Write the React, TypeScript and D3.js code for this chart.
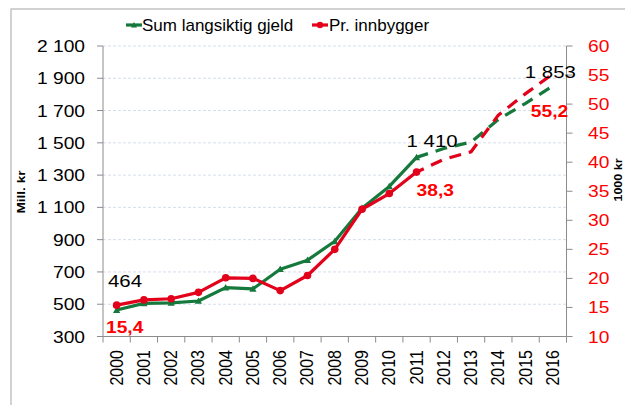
import React from 'react';
import { scaleBand, scaleLinear, line, range } from 'd3';

// values
const years = ['2000', '2001', '2002', '2003', '2004', '2005', '2006', '2007', '2008',
  '2009', '2010', '2011', '2012', '2013', '2014', '2015', '2016'];
// mill. kr
const gjeld = [464, 505, 508, 520, 603, 595, 717, 773, 890, 1095, 1230, 1410];
const gjeldProg = [1410, 1465, 1505, 1645, 1745, 1853];
// 1000 kr per innbygger
const prInnb = [15.4, 16.3, 16.5, 17.6, 20.1, 20.0, 17.9, 20.5, 25.0, 31.9, 34.6, 38.3];
const prInnbProg = [38.3, 40.5, 41.8, 48.1, 51.8, 55.2];

const leftTicks = [300, 500, 700, 900, 1100, 1300, 1500, 1700, 1900, 2100];
const rightTicks = [10, 15, 20, 25, 30, 35, 40, 45, 50, 55, 60];

const GREEN = '#15793c';
const RED = '#e2001a';
const LABEL_RED = '#ff0000';
const FONT = '"Liberation Sans", Arial, sans-serif';

const fmt = (v: number) => String(v).replace(/\B(?=(\d{3})+(?!\d))/g, ' ');
const fmtDec = (v: number) => v.toFixed(1).replace('.', ',');

// text in the reference looks stretched sideways, so we scale it
const ST = ({ x, y, anchor = 'start', size = 16, fill = '#000', weight = 'normal', rot = false, children }: any) => (
  <text
    transform={`translate(${x},${y}) scale(1.2,1)${rot ? ' rotate(-90)' : ''}`}
    textAnchor={anchor}
    fontSize={size}
    fill={fill}
    fontWeight={weight}
    fontFamily={FONT}
  >
    {children}
  </text>
);

const App = () => {
  const left = 103, right = 566.5, top = 46, bottom = 336.5;

  const x = scaleBand<string>().domain(years).range([left, right]).padding(0);
  const yL = scaleLinear().domain([300, 2100]).range([bottom, top]);
  const yR = scaleLinear().domain([10, 60]).range([bottom, top]);
  const cx = (i: number) => (x(years[i]) as number) + x.bandwidth() / 2;

  const lineL = line<number>().x((_, i) => cx(i)).y(d => yL(d));
  const lineR = line<number>().x((_, i) => cx(i)).y(d => yR(d));
  const lineLP = line<number>().x((_, i) => cx(i + 11)).y(d => yL(d));
  const lineRP = line<number>().x((_, i) => cx(i + 11)).y(d => yR(d));

  const tri = (px: number, py: number, s = 3.6) =>
    `M${px},${py - s} L${px + s},${py + s * 0.8} L${px - s},${py + s * 0.8} Z`;

  return (
    <svg width={625} height={405} style={{ position: 'absolute', left: 0, top: 0, background: '#fff' }}>
      <rect x={11} y={9} width={640} height={420} fill="#fff" stroke="#a6a6a6" strokeWidth={1} />

      {/* gridlines */}
      {leftTicks.slice(1).map(t => (
        <line key={t} x1={left} x2={right} y1={yL(t)} y2={yL(t)} stroke="#d5ddec" strokeWidth={1} strokeDasharray="3,2" />
      ))}

      {/* left axis */}
      <line x1={left} x2={left} y1={top} y2={bottom} stroke="#8c8c8c" />
      {leftTicks.map(t => (
        <g key={t}>
          <line x1={left - 6} x2={left} y1={yL(t)} y2={yL(t)} stroke="#8c8c8c" />
          <ST x={85} y={yL(t) + 6} anchor="end">{fmt(t)}</ST>
        </g>
      ))}

      {/* right axis */}
      <line x1={right} x2={right} y1={top} y2={bottom} stroke="#8c8c8c" />
      {rightTicks.map(t => (
        <g key={t}>
          <line x1={right} x2={right + 6} y1={yR(t)} y2={yR(t)} stroke="#8c8c8c" />
          <ST x={588} y={yR(t) + 6} fill={LABEL_RED}>{t}</ST>
        </g>
      ))}

      {/* x axis */}
      <line x1={left} x2={right} y1={bottom} y2={bottom} stroke="#8c8c8c" />
      {range(years.length + 1).map(i => {
        const xx = left + i * x.bandwidth();
        return <line key={i} x1={xx} x2={xx} y1={bottom} y2={bottom + 6} stroke="#8c8c8c" />;
      })}
      {years.map((yr, i) => (
        <ST key={yr} x={cx(i) + 6} y={350} anchor="end" rot>{yr}</ST>
      ))}

      {/* axis titles */}
      <text transform={`translate(25,192) rotate(-90)`} textAnchor="middle" fontSize={10} fontWeight="bold"
        fontFamily={FONT} textLength={43} lengthAdjust="spacingAndGlyphs">Mill. kr</text>
      <text transform={`translate(622,180) rotate(-90)`} textAnchor="middle" fontSize={10} fontWeight="bold"
        fontFamily={FONT} textLength={43} lengthAdjust="spacingAndGlyphs">1000 kr</text>

      {/* projections */}
      <path d={lineLP(gjeldProg) as string} fill="none" stroke={GREEN} strokeWidth={3.2} strokeDasharray="12,8" />
      <path d={lineRP(prInnbProg) as string} fill="none" stroke={RED} strokeWidth={3.2} strokeDasharray="12,8" strokeDashoffset={4} />

      {/* actual lines */}
      <path d={lineL(gjeld) as string} fill="none" stroke={GREEN} strokeWidth={3.2} strokeLinejoin="round" />
      {gjeld.map((v, i) => <path key={i} d={tri(cx(i), yL(v))} fill={GREEN} />)}
      <path d={lineR(prInnb) as string} fill="none" stroke={RED} strokeWidth={3.2} strokeLinejoin="round" />
      {prInnb.map((v, i) => <circle key={i} cx={cx(i)} cy={yR(v)} r={3.8} fill={RED} />)}

      {/* data labels */}
      <ST x={cx(0) - 8.6} y={yL(gjeld[0]) - 22.6} size={17}>{fmt(gjeld[0])}</ST>
      <ST x={cx(0) - 10.6} y={yR(prInnb[0]) + 27.5} fill={LABEL_RED} weight="bold">{fmtDec(prInnb[0])}</ST>
      <ST x={cx(11) - 10} y={yL(gjeld[11]) - 10} size={17}>{fmt(gjeld[11])}</ST>
      <ST x={cx(11)} y={yR(prInnb[11]) + 24} fill={LABEL_RED} weight="bold">{fmtDec(prInnb[11])}</ST>
      <ST x={cx(16) - 28} y={yL(gjeldProg[5]) - 8} size={17}>{fmt(gjeldProg[5])}</ST>
      <ST x={cx(16) - 22} y={yR(prInnbProg[5]) + 43} fill={LABEL_RED} weight="bold">{fmtDec(prInnbProg[5])}</ST>

      {/* legend */}
      <line x1={126} x2={142} y1={25} y2={25} stroke={GREEN} strokeWidth={3.2} />
      <path d={tri(134, 25, 3)} fill={GREEN} />
      <text x={142} y={31} fontSize={17} fontFamily={FONT}>Sum langsiktig gjeld</text>
      <line x1={312} x2={328} y1={25} y2={25} stroke={RED} strokeWidth={3.2} />
      <circle cx={320} cy={25} r={3.2} fill={RED} />
      <text x={329} y={31} fontSize={17} fontFamily={FONT}>Pr. innbygger</text>
    </svg>
  );
};

export default App;
